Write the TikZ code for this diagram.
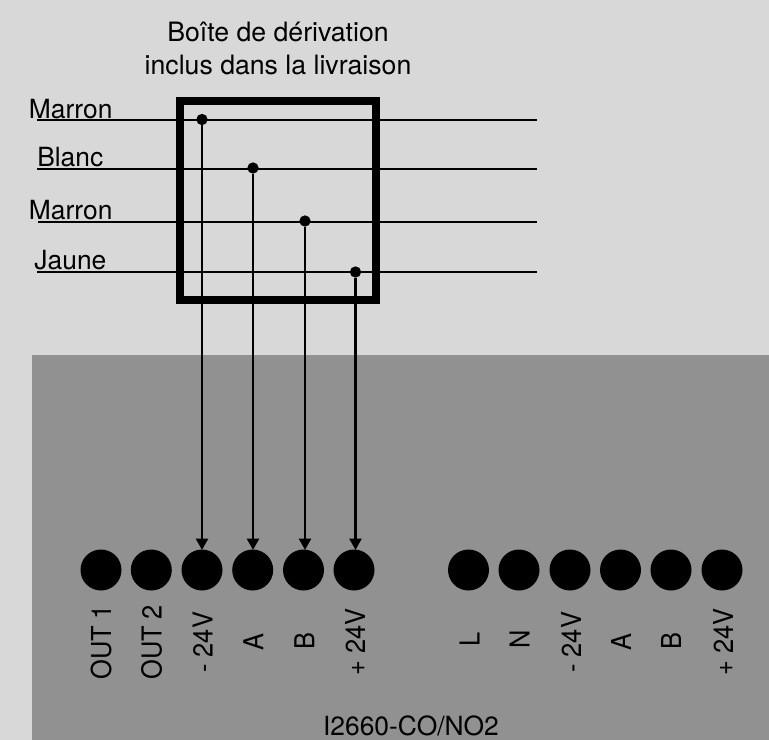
\documentclass[tikz,border=0pt]{standalone}
\usepackage{fontspec}
\setmainfont{TeX Gyre Heros}
\usetikzlibrary{arrows.meta}
\definecolor{bgc}{HTML}{D8D8D8}
\definecolor{panelc}{HTML}{919191}
\tikzset{
  wire/.style={line width=1.9pt,black},
  lead/.style={line width=1.9pt,black,-{Triangle[length=8.5pt,width=9pt]},shorten >=-0.5pt},
  termin/.style={circle,fill=black,minimum size=30.75pt,inner sep=0pt},
  junction/.style={circle,fill=black,minimum size=8.5pt,inner sep=0pt},
  titlelabel/.style={anchor=base,inner sep=0pt,font=\fontsize{20pt}{24pt}\selectfont},
  wirelabel/.style={anchor=base west,inner sep=0pt,font=\fontsize{19.8pt}{24pt}\selectfont},
  termlabel/.style={rotate=90,xscale=0.925,anchor=base west,inner sep=0pt,font=\fontsize{20.6pt}{24pt}\selectfont}
}
\begin{document}
\begin{tikzpicture}[x=0.75pt,y=-0.75pt]
\useasboundingbox (0,0) rectangle (769,740);
\fill[bgc] (0,0) rectangle (769,740);
\fill[panelc] (32,355) rectangle (769,740);

\node[titlelabel] (title1) at (278,41.7) {Boîte de dérivation};
\node[titlelabel] (title2) at (278,74.3) {inclus dans la livraison};

\coordinate (l1) at (37,120); \coordinate (r1) at (537,120);
\coordinate (l2) at (37,169); \coordinate (r2) at (537,169);
\coordinate (l3) at (38,222); \coordinate (r3) at (537,222);
\coordinate (l4) at (37,272); \coordinate (r4) at (537,272);
\draw[wire] (l1) -- (r1);
\draw[wire] (l2) -- (r2);
\draw[wire] (l3) -- (r3);
\draw[wire] (l4) -- (r4);

\node[draw=black,line width=6pt,fill=none,minimum width=147pt,minimum height=149.25pt,inner sep=0pt] (box) at (278,200.5) {};

\node[wirelabel] (m1) at (28.7,118.3) {Marron};
\node[wirelabel] (bl) at (37,166) {Blanc};
\node[wirelabel] (m2) at (28.7,219.3) {Marron};
\node[wirelabel] (ja) at (34.2,269) {Jaune};

\node[junction] (j1) at (202,119.5) {};
\node[junction] (j2) at (253,168) {};
\node[junction] (j3) at (305,221) {};
\node[junction] (j4) at (355.5,272) {};

\foreach \n/\x in {a/101,b/151.3,c/202,d/252.7,e/303.5,f/354,g/468.5,h/519,i/570,k/620.5,m/671,n/722}
  \node[termin] (t\n) at (\x,570) {};

\draw[lead] (j1) -- (j1 |- tc.north);
\draw[lead] (j2) -- (j2 |- td.north);
\draw[lead] (j3) -- (j3 |- te.north);
\draw[lead] (j4) -- (j4 |- tf.north);

\node[termlabel] (o1) at (111,680) {OUT 1};
\node[termlabel] (o2) at (161.7,680) {OUT 2};
\node[termlabel] (o3) at (212.7,673) {- 24V};
\node[termlabel] (o4) at (263.3,650.7) {A};
\node[termlabel] (o5) at (314.3,649.3) {B};
\node[termlabel] (o6) at (365,676) {+ 24V};
\node[termlabel] (o7) at (479.5,646.7) {L};
\node[termlabel] (o8) at (529.5,649) {N};
\node[termlabel] (o9) at (581,673) {- 24V};
\node[termlabel] (o10) at (631,650.7) {A};
\node[termlabel] (o11) at (681,649.3) {B};
\node[termlabel] (o12) at (733,676) {+ 24V};

\node[anchor=base,inner sep=0pt,font=\fontsize{19.8pt}{24pt}\selectfont] (model) at (411,735) {I2660-CO/NO2};
\end{tikzpicture}
\end{document}
